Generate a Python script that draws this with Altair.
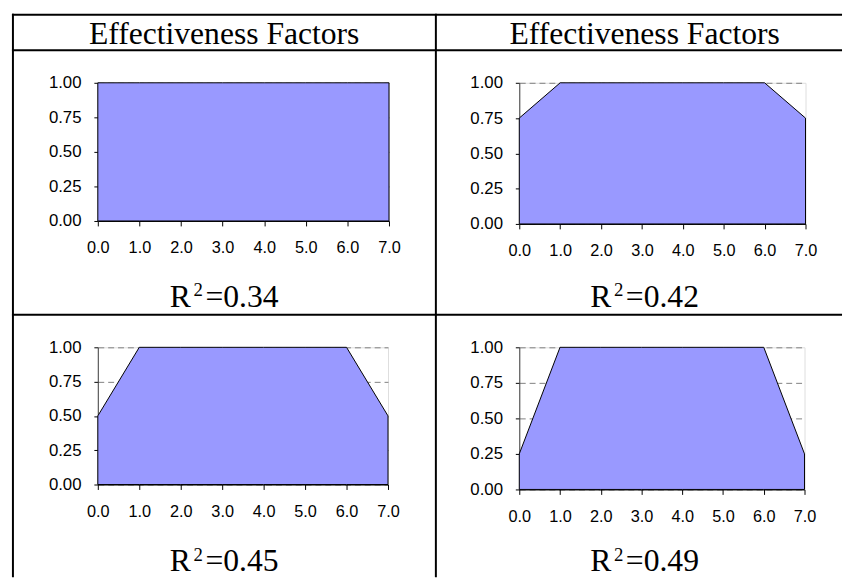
import altair as alt
import pandas as pd

# ---------------- data ----------------
x_vals = [0, 1, 2, 3, 4, 5, 6, 7]
eff_tl = [1.00, 1.00, 1.00, 1.00, 1.00, 1.00, 1.00, 1.00]
eff_tr = [0.75, 1.00, 1.00, 1.00, 1.00, 1.00, 1.00, 0.75]
eff_bl = [0.50, 1.00, 1.00, 1.00, 1.00, 1.00, 1.00, 0.50]
eff_br = [0.25, 1.00, 1.00, 1.00, 1.00, 1.00, 1.00, 0.25]
r2_values = ["0.34", "0.42", "0.45", "0.49"]
header_text = "Effectiveness Factors"
x_ticks = [0, 1, 2, 3, 4, 5, 6, 7]
y_ticks = [0.0, 0.25, 0.5, 0.75, 1.0]

# ---------------- styling / layout ----------------
FILL = "#9999FF"
GRID = "#808080"
SANS = "Liberation Sans"
SERIF = "Liberation Serif"

# plot-area geometry (page pixels)
OX, OY = 97, 78           # top-left plot origin
SIZES = [(295, 140), (290, 143), (294, 139), (289, 144)]
COL_SPACING = 132
ROW_SPACING = 125

one = pd.DataFrame({"d": [0]})


def px(v):
    return v - OX


def py(v):
    return v - OY


def hrule(x1, x2, y, w=2):
    return alt.Chart(one).mark_rule(color="black", strokeWidth=w).encode(
        x=alt.value(px(x1)), x2=alt.value(px(x2)), y=alt.value(py(y)), y2=alt.value(py(y))
    )


def vrule(x, y1, y2, w=2):
    return alt.Chart(one).mark_rule(color="black", strokeWidth=w).encode(
        x=alt.value(px(x)), x2=alt.value(px(x)), y=alt.value(py(y1)), y2=alt.value(py(y2))
    )


def text(t, x, y, size, align="left", font=SERIF):
    return alt.Chart(one).mark_text(
        text=t, font=font, fontSize=size, align=align, baseline="alphabetic", color="black"
    ).encode(x=alt.value(px(x)), y=alt.value(py(y)))


# table lines, headers and R^2 labels (page coordinates)
deco = [
    hrule(10, 851, 9),
    hrule(10, 851, 45),
    hrule(10, 851, 313),
    vrule(11, 8, 579),
    vrule(439.5, 8, 579),
    text(header_text, 225, 39, 32, align="center"),
    text(header_text, 651, 39, 32, align="center"),
]
r2_pos = [(170, 305), (596, 305), (170, 573), (596, 573)]
for (rx, ry), val in zip(r2_pos, r2_values):
    deco.append(text("R", rx, ry, 32))
    deco.append(text("2", rx + 24, ry - 11, 19))
    deco.append(text("=" + val, rx + 36, ry, 32))

x_axis = alt.Axis(
    values=x_ticks, format=".1f", title=None, grid=False,
    labelFont=SANS, labelFontSize=16.5, labelColor="black",
    tickColor="black", tickSize=5, domainColor="black",
    labelPadding=14, labelFlush=False, labelOverlap=False,
)
y_axis = alt.Axis(
    values=y_ticks, format=".2f", title=None, grid=True,
    gridColor=GRID, gridDash=[6, 4], gridWidth=1,
    labelFont=SANS, labelFontSize=17, labelColor="black",
    tickColor="black", tickSize=4, domainColor="#404040",
    labelPadding=13, labelFlush=False, labelOverlap=False,
)


def panel(vals, size, extra):
    df = pd.DataFrame({"x": x_vals, "eff": vals})
    area = alt.Chart(df).mark_area(
        color=FILL, opacity=1, stroke="black", strokeWidth=1, interpolate="linear"
    ).encode(
        x=alt.X("x:Q", scale=alt.Scale(domain=[0, 7], nice=False, zero=False), axis=x_axis),
        y=alt.Y("eff:Q", scale=alt.Scale(domain=[0, 1], nice=False), axis=y_axis),
    )
    return alt.layer(area, *extra).properties(width=size[0], height=size[1])


panels = [
    panel(eff_tl, SIZES[0], deco),
    panel(eff_tr, SIZES[1], []),
    panel(eff_bl, SIZES[2], []),
    panel(eff_br, SIZES[3], []),
]

chart = alt.concat(
    *panels, columns=2, spacing={"row": ROW_SPACING, "column": COL_SPACING}, bounds="flush"
).properties(
    padding={"left": 2, "top": 0, "right": 0, "bottom": 0}
).configure_view(
    stroke=GRID, strokeWidth=1
).configure(background="white")

chart.save("out.html", embed_options={"renderer": "svg", "actions": False})
